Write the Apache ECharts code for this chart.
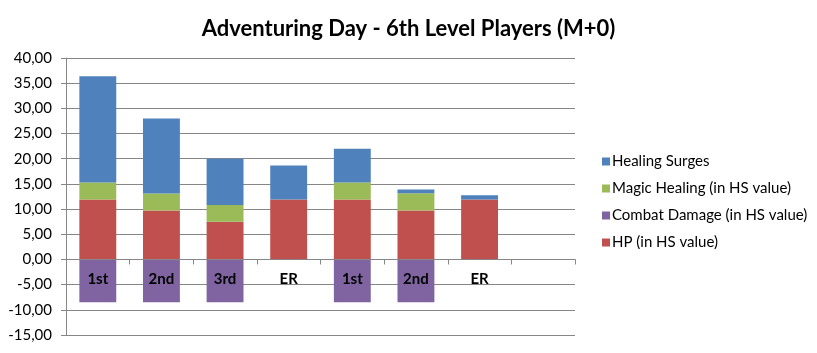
<!DOCTYPE html>
<html>
<head>
<meta charset="utf-8">
<script src="https://cdn.jsdelivr.net/npm/echarts@6/dist/echarts.min.js"></script>
<style>
  html, body { margin: 0; padding: 0; background: #fff; }
  #chart { width: 817px; height: 353px; }
</style>
</head>
<body>
<div id="chart"></div>
<script>
const categorias = ['1st', '2nd', '3rd', 'ER', '1st', '2nd', 'ER', ''];
const hp = [11.9, 9.7, 7.5, 11.9, 11.9, 9.7, 11.9, null];
const combatDamage = [-8.5, -8.5, -8.5, null, -8.5, -8.5, null, null];
const magicHealing = [3.4, 3.4, 3.3, null, 3.4, 3.45, null, null];
const healingSurges = [21.1, 14.9, 9.2, 6.75, 6.7, 0.75, 0.85, null];

const fonte = 'Lato, "Open Sans", sans-serif';
const myChart = echarts.init(document.getElementById('chart'));

// layout do grid e do eixo y
const gridTop = 58, gridBottom = 18;
const yMin = -15, yMax = 40;
const alturaGrid = 353 - gridTop - gridBottom;
// desloca o eixo x da base do grid até a linha do zero
const offsetZero = -alturaGrid * (0 - yMin) / (yMax - yMin);

function serie(nome, dados, cor) {
    return {
        name: nome,
        type: 'bar',
        stack: 'total',
        data: dados,
        barWidth: '58%',
        itemStyle: { color: cor },
        emphasis: { disabled: true }
    };
}

myChart.setOption({
    animation: false,
    title: {
        text: 'Adventuring Day - 6th Level Players (M+0)',
        left: 'center',
        top: 13,
        textStyle: { fontFamily: fonte, fontSize: 22, fontWeight: 'bold', color: '#000' }
    },
    legend: {
        orient: 'vertical',
        left: 597,
        top: 149,
        itemWidth: 8,
        itemHeight: 8,
        itemGap: 12,
        icon: 'rect',
        data: ['Healing Surges', 'Magic Healing (in HS value)', 'Combat Damage (in HS value)', 'HP (in HS value)'],
        textStyle: { fontFamily: fonte, fontSize: 15, color: '#000', padding: [0, 0, 0, -3] }
    },
    grid: { left: 66, right: 242, top: gridTop, bottom: gridBottom, containLabel: false, outerBoundsMode: 'none' },
    xAxis: {
        type: 'category',
        data: categorias,
        position: 'bottom',
        offset: offsetZero,
        z: 10,
        axisLine: { onZero: false, lineStyle: { color: '#868686' } },
        axisTick: { show: true, length: 5, inside: false, lineStyle: { color: '#868686' } },
        axisLabel: { fontFamily: fonte, fontSize: 15, fontWeight: 'bold', color: '#000', margin: 12 }
    },
    yAxis: {
        type: 'value',
        min: yMin,
        max: yMax,
        interval: 5,
        axisLine: { show: true, lineStyle: { color: '#868686' } },
        axisTick: { show: true, length: 5, lineStyle: { color: '#868686' } },
        splitLine: { lineStyle: { color: '#868686' } },
        axisLabel: {
            fontFamily: fonte, fontSize: 15, color: '#000', margin: 14,
            formatter: v => v.toFixed(2).replace('.', ',')
        }
    },
    series: [
        serie('HP (in HS value)', hp, '#C0504D'),
        serie('Combat Damage (in HS value)', combatDamage, '#8064A2'),
        serie('Magic Healing (in HS value)', magicHealing, '#9BBB59'),
        serie('Healing Surges', healingSurges, '#4F81BD')
    ]
});
</script>
</body>
</html>
